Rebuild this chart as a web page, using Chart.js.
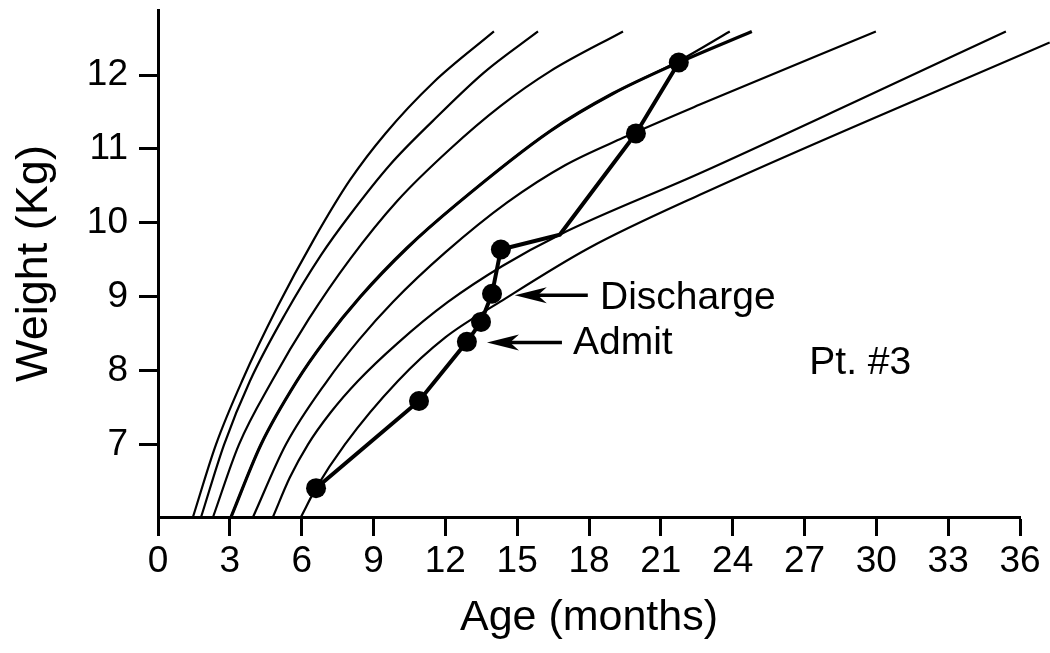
<!DOCTYPE html>
<html>
<head>
<meta charset="utf-8">
<script src="https://cdn.jsdelivr.net/npm/chart.js@4.4.1/dist/chart.umd.min.js"></script>
<style>
html,body{margin:0;padding:0;background:#fff;}
canvas{display:block;}
</style>
</head>
<body>
<canvas id="c" width="1050" height="653"></canvas>
<script>
// ---- tick labels ----
const xTickValues = [0,3,6,9,12,15,18,21,24,27,30,33,36];
const yTickValues = [7,8,9,10,11,12];

// ---- reference growth curves (age in months, weight in kg) ----
const curve1Age    = [1.46, 2.42, 3.51, 5.0, 6.5, 8.02, 9.5, 11.5, 14.03];
const curve1Weight = [6.02, 7.0, 7.86, 8.87, 9.77, 10.58, 11.21, 11.9, 12.59];

const curve2Age    = [1.80, 2.76, 3.84, 5.3, 6.8, 8.02, 9.7, 11.48, 13.6, 15.87];
const curve2Weight = [6.02, 7.0, 7.86, 8.76, 9.56, 10.11, 10.79, 11.38, 12.03, 12.59];

const curve3Age    = [2.30, 3.38, 4.76, 6.3, 8.02, 10.0, 12.2, 14.3, 16.37, 19.42];
const curve3Weight = [6.02, 7.0, 7.86, 8.7, 9.51, 10.3, 11.0, 11.58, 12.05, 12.59];

const curve4aAge    = [3.05, 4.30, 5.80, 7.0, 8.45, 10.4, 12.5, 16.37, 19.0, 21.75, 23.88];
const curve4aWeight = [6.02, 7.0, 7.86, 8.42, 9.0, 9.66, 10.26, 11.24, 11.75, 12.19, 12.59];

const curve4bAge    = [3.05, 4.30, 5.80, 7.0, 8.45, 10.4, 12.5, 16.37, 19.0, 21.75, 24.8];
const curve4bWeight = [6.02, 7.0, 7.86, 8.42, 9.0, 9.66, 10.26, 11.24, 11.75, 12.17, 12.59];

const curve5Age    = [3.97, 5.34, 7.06, 8.4, 9.81, 12.0, 14.6, 17.0, 19.42, 22.63, 29.98];
const curve5Weight = [6.02, 7.0, 7.86, 8.42, 8.93, 9.6, 10.28, 10.78, 11.15, 11.6, 12.59];

const curve6Age    = [4.80, 5.5, 6.26, 7.2, 8.35, 10.0, 12.11, 14.4, 16.78, 22.63, 29.0, 35.41];
const curve6Weight = [6.02, 6.55, 7.0, 7.43, 7.86, 8.37, 8.93, 9.42, 9.84, 10.67, 11.62, 12.59];

const curve7Age    = [5.97, 6.60, 7.8, 10.02, 12.0, 14.28, 18.0, 22.63, 37.24];
const curve7Weight = [6.02, 6.41, 7.0, 7.86, 8.45, 8.93, 9.66, 10.38, 12.44];

// ---- patient #3 ----
const patientAge      = [6.60, 10.90, 12.90, 13.49, 13.95, 14.32, 16.78, 19.96, 21.75];
const patientWeight   = [6.41, 7.59, 8.39, 8.66, 9.04, 9.64, 9.84, 11.21, 12.17];
const patientMeasured = [true, true, true, true, true, true, false, true, true];

const FONT = '"Liberation Sans", Arial, Helvetica, sans-serif';
function pts(a, w) { return a.map((v, i) => ({x: v, y: w[i]})); }

const curveStyle = {
  type: 'line', borderColor: '#000', borderWidth: 2.2, pointRadius: 0,
  cubicInterpolationMode: 'monotone', clip: false, fill: false
};

const annot = {
  id: 'annot',
  afterDatasetsDraw(chart) {
    const {ctx, scales: {x, y}} = chart;
    ctx.save();
    ctx.fillStyle = '#000';
    ctx.strokeStyle = '#000';
    function arrow(tailX, tipX, yv) {
      const tx = x.getPixelForValue(tipX), ty = y.getPixelForValue(yv);
      const sx = x.getPixelForValue(tailX);
      const head = 32, hw = 8;
      ctx.lineWidth = 3.5;
      ctx.beginPath(); ctx.moveTo(sx, ty); ctx.lineTo(tx + head * 0.7, ty); ctx.stroke();
      ctx.beginPath();
      ctx.moveTo(tx, ty);
      ctx.lineTo(tx + head, ty - hw);
      ctx.lineTo(tx + head * 0.72, ty);
      ctx.lineTo(tx + head, ty + hw);
      ctx.closePath();
      ctx.fill();
    }
    arrow(17.95, 14.9, 9.02);
    arrow(16.87, 13.74, 8.38);
    ctx.font = '39px ' + FONT;
    ctx.textAlign = 'left';
    ctx.textBaseline = 'alphabetic';
    ctx.fillText('Discharge', x.getPixelForValue(18.46), y.getPixelForValue(8.84));
    ctx.fillText('Admit', x.getPixelForValue(17.33), y.getPixelForValue(8.23));
    ctx.fillText('Pt. #3', x.getPixelForValue(27.2), y.getPixelForValue(7.96));
    ctx.restore();
  }
};

new Chart(document.getElementById('c'), {
  type: 'line',
  data: {
    datasets: [
      {...curveStyle, data: pts(curve1Age, curve1Weight)},
      {...curveStyle, data: pts(curve2Age, curve2Weight)},
      {...curveStyle, data: pts(curve3Age, curve3Weight)},
      {...curveStyle, data: pts(curve4aAge, curve4aWeight)},
      {...curveStyle, borderWidth: 3.2, data: pts(curve4bAge, curve4bWeight)},
      {...curveStyle, data: pts(curve5Age, curve5Weight)},
      {...curveStyle, data: pts(curve6Age, curve6Weight)},
      {...curveStyle, data: pts(curve7Age, curve7Weight)},
      {
        type: 'line', data: pts(patientAge, patientWeight),
        borderColor: '#000', borderWidth: 4, tension: 0, clip: false, fill: false,
        pointRadius: ctx => patientMeasured[ctx.dataIndex] ? 10 : 0,
        pointBackgroundColor: '#000', pointBorderColor: '#000', pointBorderWidth: 0
      }
    ]
  },
  options: {
    responsive: false,
    animation: false,
    events: [],
    layout: {padding: {top: 5, right: 30, bottom: 0, left: 0}},
    plugins: {legend: {display: false}, tooltip: {enabled: false}},
    scales: {
      x: {
        type: 'linear', min: 0, max: 36,
        afterBuildTicks: s => { s.ticks = xTickValues.map(v => ({value: v})); },
        afterFit: s => { s.height = 136; s.paddingLeft = 0; s.paddingRight = 0; },
        ticks: {font: {family: FONT, size: 37}, color: '#000', padding: 4, maxRotation: 0, autoSkip: false},
        grid: {display: true, drawOnChartArea: false, drawTicks: true, tickLength: 19, tickWidth: 3, tickColor: '#000'},
        border: {display: true, color: '#000', width: 3},
        title: {display: true, text: 'Age (months)', font: {family: FONT, size: 43}, color: '#000', padding: {top: 0, bottom: 9}}
      },
      y: {
        type: 'linear', min: 6.02, max: 12.88,
        afterBuildTicks: s => { s.ticks = yTickValues.map(v => ({value: v})); },
        afterFit: s => { s.width = 158; s.paddingTop = 0; s.paddingBottom = 0; },
        ticks: {font: {family: FONT, size: 37}, color: '#000', padding: 11, autoSkip: false},
        grid: {display: true, drawOnChartArea: false, drawTicks: true, tickLength: 19, tickWidth: 3, tickColor: '#000'},
        border: {display: true, color: '#000', width: 3},
        title: {display: true, text: 'Weight (Kg)', font: {family: FONT, size: 45}, color: '#000', padding: {top: 8, bottom: 0}}
      }
    }
  },
  plugins: [annot]
});
</script>
</body>
</html>
